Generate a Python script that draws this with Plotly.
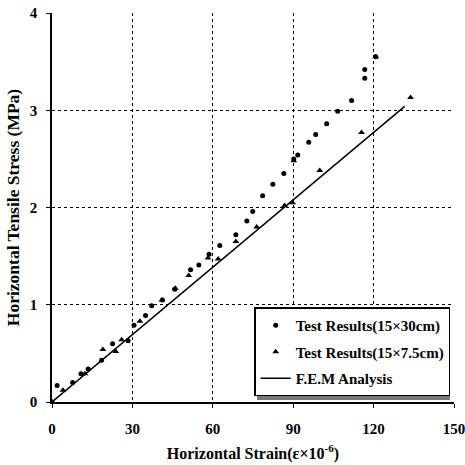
import plotly.graph_objects as go

# Test Results (15x30cm) - circles
circ_x = [0, 1.9, 7.7, 10.8, 13.5, 18.5, 22.6, 28.4, 30.6, 34.9, 37.2, 41.2, 45.8, 51.7, 54.8,
          58.6, 62.6, 68.6, 72.7, 74.9, 78.6, 82.4, 86.5, 90.2, 91.7, 95.8, 98.4, 102.5, 106.6,
          111.8, 116.7, 116.7, 120.8]
circ_y = [0, 0.17, 0.20, 0.29, 0.34, 0.43, 0.60, 0.63, 0.79, 0.89, 0.99, 1.05, 1.16, 1.36, 1.41,
          1.52, 1.61, 1.72, 1.86, 1.96, 2.12, 2.24, 2.35, 2.50, 2.54, 2.67, 2.75, 2.86, 2.99,
          3.10, 3.33, 3.42, 3.55]

# Test Results (15x7.5cm) - triangles
tri_x = [0, 4.1, 12.3, 19.0, 23.8, 26.0, 32.8, 41.0, 46.0, 51.0, 58.2, 62.0, 68.6, 76.4, 86.8,
         89.8, 90.2, 99.9, 115.5, 120.8, 133.8]
tri_y = [0, 0.12, 0.29, 0.54, 0.52, 0.64, 0.83, 1.05, 1.17, 1.30, 1.48, 1.47, 1.65, 1.80, 2.02,
         2.05, 2.48, 2.38, 2.77, 3.55, 3.13]

# F.E.M Analysis
fem_x = [0, 131.6]
fem_y = [0, 3.04]

x_ticks = [0, 30, 60, 90, 120, 150]
y_ticks = [0, 1, 2, 3, 4]

font_family = "Liberation Serif"

fig = go.Figure()
fig.add_trace(go.Scatter(x=circ_x, y=circ_y, mode="markers", name="<b>Test Results(15×30cm)</b>",
                         legendgroup="a",
                         marker=dict(symbol="circle", size=5, color="black")))
fig.add_trace(go.Scatter(x=tri_x, y=tri_y, mode="markers", name="<b>Test Results(15×7.5cm)</b>",
                         legendgroup="b",
                         marker=dict(symbol="triangle-up", size=6, color="black")))
fig.add_trace(go.Scatter(x=fem_x, y=fem_y, mode="lines", name="<b>F.E.M Analysis</b>",
                         legendgroup="c",
                         line=dict(color="black", width=1.5)))

# legend drop shadow
fig.add_shape(type="rect", xref="paper", yref="paper", x0=0.510, x1=0.990, y0=0.005, y1=0.234,
              fillcolor="#777", line=dict(width=0), layer="above")

fig.update_layout(
    width=465, height=465,
    margin=dict(l=52, r=11, t=13, b=63),
    paper_bgcolor="white", plot_bgcolor="white",
    font=dict(family=font_family, size=14, color="black"),
    showlegend=True,
    legend=dict(x=0.503, y=0.243, xanchor="left", yanchor="top",
                bgcolor="white", bordercolor="black", borderwidth=1.5,
                font=dict(family=font_family, size=15, color="black"),
                tracegroupgap=4, itemwidth=30),
    xaxis=dict(range=[0, 150], tickvals=x_ticks, ticktext=[f"<b>{v}</b>" for v in x_ticks],
               showgrid=True, gridcolor="black", griddash="dot", gridwidth=1.2,
               showline=True, linecolor="black", linewidth=1.5, mirror=False,
               ticks="outside", ticklen=4, tickcolor="black", zeroline=False,
               ticklabelstandoff=8, ticklabeloverflow="allow", automargin=False,
               title=dict(text="<b>Horizontal Strain(ε×10<sup>-6</sup>)</b>",
                          font=dict(family=font_family, size=16), standoff=12),
               tickfont=dict(size=15)),
    yaxis=dict(range=[0, 4], tickvals=y_ticks, ticktext=[f"<b>{v}</b>" for v in y_ticks],
               showgrid=True, gridcolor="black", griddash="dot", gridwidth=1.2,
               showline=True, linecolor="black", linewidth=1.5, mirror=False,
               ticks="outside", ticklen=4, tickcolor="black", zeroline=False,
               ticklabelstandoff=6, ticklabeloverflow="allow", automargin=False,
               title=dict(text="<b>Horizontal Tensile Stress (MPa)</b>",
                          font=dict(family=font_family, size=17.5), standoff=6),
               tickfont=dict(size=15)),
)

fig.write_html("out.html")
